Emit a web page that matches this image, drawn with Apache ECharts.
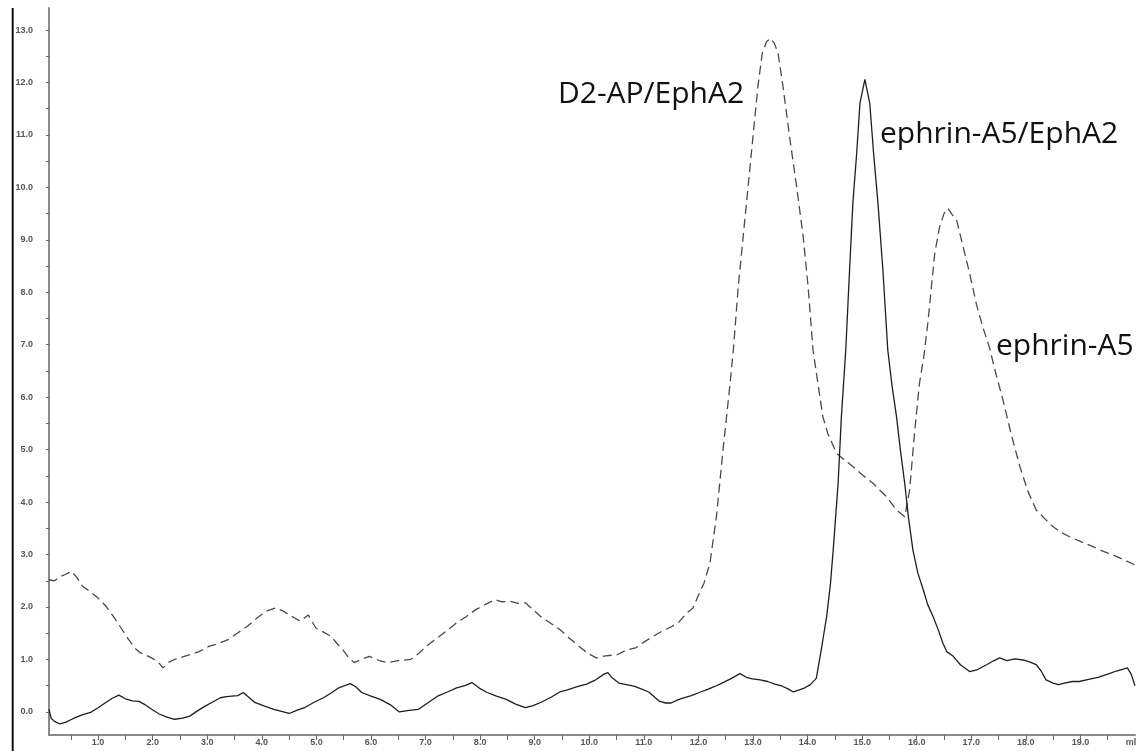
<!DOCTYPE html>
<html>
<head>
<meta charset="utf-8">
<title>Elution profiles</title>
<script src="https://cdn.jsdelivr.net/npm/echarts@6/dist/echarts.min.js"></script>
<style>
  html, body { margin: 0; padding: 0; background: #fff; }
  #chart { width: 1139px; height: 751px; }
</style>
</head>
<body>
<div id="chart"></div>
<script>
// dashed trace (D2-AP/EphA2 and ephrin-A5 peaks)
const dashedX = [
  0.10, 0.20, 0.30, 0.40, 0.51, 0.62, 0.72, 0.85, 1.00, 1.14, 1.28, 1.42, 1.56, 1.67, 1.77, 1.88, 1.98,
  2.10, 2.19, 2.30, 2.40, 2.55, 2.68, 2.85, 3.03, 3.20, 3.38, 3.55, 3.73, 3.90, 4.08, 4.25, 4.38, 4.50,
  4.62, 4.71, 4.85, 4.99, 5.13, 5.27, 5.38, 5.48, 5.58, 5.69, 5.82, 5.97, 6.15, 6.31, 6.50, 6.73, 6.88,
  7.01, 7.15, 7.29, 7.43, 7.57, 7.75, 7.92, 8.10, 8.27, 8.40, 8.55, 8.70, 8.83, 8.97, 9.11, 9.28, 9.46,
  9.62, 9.81, 9.97, 10.13, 10.30, 10.51, 10.68, 10.85, 11.00, 11.17, 11.35, 11.50, 11.65, 11.78, 11.90,
  11.99, 12.10, 12.21, 12.33, 12.45, 12.58, 12.64, 12.73, 12.82, 12.91, 13.00, 13.09, 13.17, 13.25,
  13.32, 13.39, 13.46, 13.55, 13.67, 13.80, 13.92, 14.01, 14.10, 14.19, 14.28, 14.37, 14.53, 14.68,
  14.83, 15.00, 15.20, 15.32, 15.44, 15.63, 15.78, 15.87, 15.96, 16.05, 16.13, 16.21, 16.27, 16.33,
  16.42, 16.50, 16.57, 16.65, 16.73, 16.85, 16.97, 17.09, 17.21, 17.33, 17.45, 17.58, 17.73, 17.89,
  18.04, 18.19, 18.35, 18.50, 18.65, 18.80, 19.00, 19.23, 19.42, 19.60, 19.80, 20.00
]
const dashedY = [
  2.52, 2.50, 2.58, 2.62, 2.68, 2.55, 2.39, 2.30, 2.17, 2.02, 1.82, 1.60, 1.38, 1.22, 1.13, 1.08, 1.03,
  0.95, 0.84, 0.95, 1.00, 1.05, 1.09, 1.15, 1.25, 1.30, 1.38, 1.50, 1.63, 1.78, 1.92, 1.98, 1.93, 1.85,
  1.78, 1.73, 1.85, 1.60, 1.52, 1.44, 1.30, 1.19, 1.05, 0.94, 1.00, 1.06, 0.98, 0.94, 0.98, 1.00, 1.12,
  1.25, 1.36, 1.47, 1.58, 1.70, 1.82, 1.95, 2.05, 2.14, 2.10, 2.11, 2.07, 2.08, 1.95, 1.82, 1.70, 1.57,
  1.42, 1.25, 1.12, 1.03, 1.07, 1.09, 1.18, 1.22, 1.33, 1.44, 1.55, 1.62, 1.72, 1.88, 1.98,
  2.20, 2.45, 2.83, 3.72, 4.99, 6.26, 6.90, 8.11, 9.06, 10.01, 10.97, 11.92, 12.56, 12.78,
  12.84, 12.75, 12.56, 11.92, 10.97, 10.01, 9.06, 8.11, 6.90, 6.26, 5.63, 5.31, 4.93, 4.80,
  4.68, 4.52, 4.36, 4.23, 4.11, 3.85, 3.72, 4.23, 5.31, 6.26, 6.77, 7.47, 8.11, 8.74,
  9.25, 9.50, 9.60, 9.48, 9.38, 8.87, 8.36, 7.79, 7.34, 6.96, 6.45, 5.95, 5.30, 4.68,
  4.20, 3.85, 3.68, 3.53, 3.42, 3.34, 3.25, 3.15, 3.06, 2.99, 2.90, 2.80
]

// solid trace (ephrin-A5/EphA2 complex)
const solidX = [
  0.10, 0.14, 0.20, 0.30, 0.40, 0.50, 0.58, 0.72, 0.86, 1.00, 1.14, 1.26, 1.38, 1.50, 1.63, 1.75, 1.84,
  1.98, 2.12, 2.26, 2.40, 2.55, 2.68, 2.82, 2.96, 3.10, 3.24, 3.35, 3.45, 3.56, 3.66, 3.77, 3.87, 4.05,
  4.22, 4.36, 4.50, 4.64, 4.78, 4.95, 5.13, 5.27, 5.41, 5.52, 5.62, 5.72, 5.83, 6.00, 6.17, 6.35, 6.52,
  6.70, 6.87, 7.05, 7.22, 7.40, 7.57, 7.72, 7.85, 7.99, 8.13, 8.30, 8.48, 8.65, 8.83, 8.97, 9.11, 9.30,
  9.46, 9.60, 9.78, 9.95, 10.10, 10.27, 10.34, 10.42, 10.54, 10.68, 10.82, 10.95, 11.09, 11.20, 11.29,
  11.40, 11.50, 11.60, 11.70, 11.87, 12.04, 12.17, 12.31, 12.45, 12.59, 12.76, 12.88, 12.99, 13.13,
  13.27, 13.40, 13.54, 13.64, 13.74, 13.85, 13.95, 14.05, 14.16, 14.25, 14.30, 14.35, 14.42, 14.47,
  14.56, 14.62, 14.70, 14.77, 14.83, 14.90, 14.96, 15.05, 15.14, 15.21, 15.29, 15.38, 15.47, 15.55,
  15.63, 15.70, 15.78, 15.85, 15.93, 16.02, 16.12, 16.20, 16.30, 16.40, 16.48, 16.55, 16.67, 16.80,
  16.97, 17.10, 17.28, 17.40, 17.52, 17.65, 17.80, 17.95, 18.08, 18.19, 18.28, 18.37, 18.50, 18.60,
  18.71, 18.85, 18.98, 19.15, 19.32, 19.50, 19.66, 19.80, 19.86, 19.93, 20.00
]
const solidY = [
  0.05, -0.12, -0.18, -0.23, -0.20, -0.15, -0.11, -0.05, -0.01, 0.08, 0.18, 0.26, 0.32, 0.25, 0.21, 0.20, 0.15,
  0.05, -0.04, -0.10, -0.14, -0.12, -0.08, 0.02, 0.11, 0.19, 0.27, 0.29, 0.30, 0.31, 0.37, 0.27, 0.18, 0.11,
  0.05, 0.01, -0.03, 0.03, 0.08, 0.18, 0.27, 0.36, 0.46, 0.50, 0.54, 0.48, 0.37, 0.30, 0.24, 0.14, 0.00,
  0.03, 0.05, 0.18, 0.30, 0.38, 0.46, 0.50, 0.56, 0.45, 0.37, 0.30, 0.24, 0.15, 0.08, 0.12, 0.18, 0.28,
  0.38, 0.42, 0.48, 0.53, 0.60, 0.72, 0.75, 0.65, 0.55, 0.52, 0.49, 0.44, 0.38, 0.28, 0.20,
  0.17, 0.17, 0.22, 0.26, 0.31, 0.38, 0.43, 0.49, 0.56, 0.63, 0.73, 0.66, 0.63, 0.61,
  0.58, 0.53, 0.49, 0.44, 0.38, 0.42, 0.46, 0.52, 0.64, 1.18, 1.50, 1.82, 2.45, 3.09,
  4.36, 5.63, 6.90, 8.43, 9.70, 10.65, 11.60, 12.06, 11.60, 10.65, 9.70, 8.43, 6.90, 6.20,
  5.63, 5.00, 4.36, 3.70, 3.09, 2.65, 2.33, 2.05, 1.82, 1.55, 1.31, 1.15, 1.06, 0.90,
  0.77, 0.80, 0.90, 0.97, 1.03, 0.98, 1.01, 0.99, 0.95, 0.90, 0.78, 0.61, 0.55, 0.52,
  0.55, 0.58, 0.58, 0.62, 0.66, 0.72, 0.78, 0.82, 0.84, 0.72, 0.50
]

// axis ticks and labels
const xLabelValues = [1, 2, 3, 4, 5, 6, 7, 8, 9, 10, 11, 12, 13, 14, 15, 16, 17, 18, 19]
const xTickValues = [0.5, 1, 1.5, 2, 2.5, 3, 3.5, 4, 4.5, 5, 5.5, 6, 6.5, 7, 7.5, 8, 8.5, 9, 9.5, 10,
  10.5, 11, 11.5, 12, 12.5, 13, 13.5, 14, 14.5, 15, 15.5, 16, 16.5, 17, 17.5, 18, 18.5, 19, 19.5]
const yLabelValues = [0, 1, 2, 3, 4, 5, 6, 7, 8, 9, 10, 11, 12, 13]
const yTickValues = [0, 0.5, 1, 1.5, 2, 2.5, 3, 3.5, 4, 4.5, 5, 5.5, 6, 6.5, 7, 7.5, 8, 8.5, 9, 9.5,
  10, 10.5, 11, 11.5, 12, 12.5, 13]

function pairs(xs, ys) {
  return xs.map((x, i) => [x, ys[i]])
}

const chart = echarts.init(document.getElementById('chart'), null, { renderer: 'canvas' })

const axisFont = {
  color: '#555',
  fontSize: 9,
  fontWeight: 'bold',
  fontFamily: '"Liberation Sans", Arial, sans-serif',
}

const peakFont = '30px "Open Sans", "Noto Sans", sans-serif'

const option = {
  animation: false,
  backgroundColor: '#fff',
  grid: {
    left: 49,
    right: 4,
    top: 8,
    bottom: 16,
    containLabel: false,
    outerBoundsMode: 'none',
  },
  xAxis: {
    type: 'value',
    min: 0.1,
    max: 20,
    splitLine: { show: false },
    axisLine: { onZero: false, lineStyle: { color: '#8a8a8a', width: 2 } },
    axisTick: {
      length: 5,
      customValues: xTickValues,
      lineStyle: { color: '#666', width: 1 },
    },
    axisLabel: {
      ...axisFont,
      margin: 3,
      customValues: xLabelValues,
      formatter: (v) => v.toFixed(1),
    },
  },
  yAxis: {
    type: 'value',
    min: -0.44,
    max: 13.42,
    splitLine: { show: false },
    axisLine: { onZero: false, lineStyle: { color: '#8a8a8a', width: 2 } },
    axisTick: {
      length: 3,
      customValues: yTickValues,
      lineStyle: { color: '#666', width: 1 },
    },
    axisLabel: {
      ...axisFont,
      margin: 16,
      customValues: yLabelValues,
      formatter: (v) => v.toFixed(1),
    },
  },
  series: [
    {
      name: 'dashed',
      type: 'line',
      data: pairs(dashedX, dashedY),
      showSymbol: false,
      lineStyle: { color: '#4a4a4a', width: 1.3, type: [9, 5] },
      z: 2,
    },
    {
      name: 'solid',
      type: 'line',
      data: pairs(solidX, solidY),
      showSymbol: false,
      lineStyle: { color: '#1e1e1e', width: 1.3 },
      z: 3,
    },
  ],
  graphic: [
    {
      type: 'line',
      shape: { x1: 12.7, y1: 8, x2: 12.7, y2: 751 },
      style: { stroke: '#111', lineWidth: 2 },
      z: 10,
    },
    {
      type: 'text',
      style: { text: 'ml', x: 1131, y: 743, font: 'bold 9px "Liberation Sans", Arial', fill: '#555', align: 'center', verticalAlign: 'middle' },
    },
    {
      type: 'text',
      style: { text: 'D2-AP/EphA2', x: 558, y: 94, font: peakFont, fill: '#111', verticalAlign: 'middle' },
    },
    {
      type: 'text',
      style: { text: 'ephrin-A5/EphA2', x: 880, y: 134, font: peakFont, fill: '#111', verticalAlign: 'middle' },
    },
    {
      type: 'text',
      style: { text: 'ephrin-A5', x: 996, y: 346, font: peakFont, fill: '#111', verticalAlign: 'middle' },
    },
  ],
}

chart.setOption(option)
</script>
</body>
</html>
